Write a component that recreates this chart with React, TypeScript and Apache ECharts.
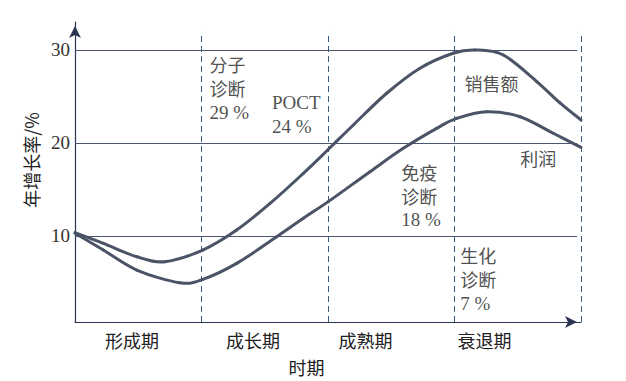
import { useEffect, useRef } from "react";
import * as echarts from "echarts";

const categories = ["形成期", "成长期", "成熟期", "衰退期"];
const categoryLabelAt = [0.451, 1.407, 2.296, 3.237];
const yTicks = [10, 20, 30];
const stageBounds = [1, 2, 3, 4];
const yMin = 0.753;
const yMax = 33.0;

const salesName = "销售额";
const salesData: [number, number][] = [
  [0, 10.36], [0.224, 9.21], [0.488, 7.77], [0.711, 7.24], [1.01, 8.49], [1.278, 10.64],
  [1.542, 13.5], [1.805, 16.73], [2.002, 19.3], [2.2, 21.93], [2.464, 25.34], [2.727, 28.03],
  [2.99, 29.64], [3.162, 29.99], [3.386, 29.45], [3.65, 26.6], [3.834, 24.3], [4, 22.47],
];
const profitName = "利润";
const profitData: [number, number][] = [
  [0, 10.3], [0.224, 8.49], [0.488, 6.34], [0.83, 4.97], [1.01, 5.33], [1.278, 7.05],
  [1.594, 9.92], [1.805, 11.9], [2.002, 13.69], [2.332, 16.91], [2.595, 19.42], [2.859, 21.57],
  [3.017, 22.64], [3.255, 23.36], [3.518, 22.82], [3.781, 21.04], [4, 19.53],
];

const annotations = [
  { lines: ["分子", "诊断", "29 %"], at: [1.067, 29.67] },
  { lines: ["POCT", "24 %"], at: [1.561, 25.58] },
  { lines: [salesName], at: [3.083, 27.73] },
  { lines: [profitName], at: [3.523, 19.67] },
  { lines: ["免疫", "诊断", "18 %"], at: [2.583, 18.15] },
  { lines: ["生化", "诊断", "7 %"], at: [3.049, 9.14] },
];

const CJK = '"Noto Sans CJK SC", "Noto Sans", sans-serif';
const SERIF = '"Liberation Serif", "DejaVu Serif", serif';
const TEXT = "#222";
const AXIS = "#2b3553";
const CURVE = "#4a5466";

function curveSeries(name: string, data: [number, number][]) {
  return {
    type: "custom",
    name,
    data,
    encode: { x: 0, y: 1 },
    clip: false,
    silent: true,
    z: 5,
    renderItem: (params: any, api: any) => {
      if (params.dataIndex !== 0) return { type: "group", children: [] };
      const p = data.map((d) => api.coord(d));
      const n = p.length;
      const children: any[] = [];
      for (let i = 0; i < n - 1; i++) {
        const p0 = p[Math.max(0, i - 1)];
        const p1 = p[i];
        const p2 = p[i + 1];
        const p3 = p[Math.min(n - 1, i + 2)];
        children.push({
          type: "bezierCurve",
          shape: {
            x1: p1[0], y1: p1[1], x2: p2[0], y2: p2[1],
            cpx1: p1[0] + (p2[0] - p0[0]) / 6, cpy1: p1[1] + (p2[1] - p0[1]) / 6,
            cpx2: p2[0] - (p3[0] - p1[0]) / 6, cpy2: p2[1] - (p3[1] - p1[1]) / 6,
          },
          style: { stroke: CURVE, lineWidth: 3, fill: null, lineCap: "round" },
          silent: true,
        });
      }
      return { type: "group", children };
    },
  };
}

export default function App() {
  const ref = useRef<HTMLDivElement>(null);
  useEffect(() => {
    if (!ref.current) return;
    const chart = echarts.init(ref.current, undefined, { renderer: "svg" });
    const rich: any = {
      c: { fontFamily: CJK, fontSize: 18, lineHeight: 24, color: TEXT },
      n: { fontFamily: SERIF, fontSize: 19, lineHeight: 24, color: TEXT },
    };
    chart.setOption({
      animation: false,
      grid: { left: 75, right: 45, top: 22, bottom: 59 },
      xAxis: {
        type: "value",
        min: 0,
        max: 4,
        name: "时期",
        nameLocation: "middle",
        nameGap: 36,
        nameTextStyle: { fontFamily: CJK, fontSize: 18, color: TEXT, padding: [0, 43, 0, 0] },
        axisLine: {
          show: true,
          lineStyle: { color: AXIS, width: 1.2 },
          symbol: ["none", "arrow"],
          symbolSize: [9, 12],
          symbolOffset: [0, -4],
        },
        axisTick: { show: false },
        splitLine: { show: false },
        axisLabel: {
          customValues: categoryLabelAt,
          formatter: (v: number) => {
            const i = categoryLabelAt.findIndex((q) => Math.abs(q - v) < 1e-6);
            return i >= 0 ? categories[i] : "";
          },
          fontFamily: CJK,
          fontSize: 18,
          color: TEXT,
          margin: 9,
        },
      },
      yAxis: {
        type: "value",
        min: yMin,
        max: yMax,
        name: "年增长率/%",
        nameLocation: "middle",
        nameRotate: 90,
        nameGap: 35,
        nameTextStyle: { fontFamily: CJK, fontSize: 18, color: TEXT, padding: [0, 0, 0, 24] },
        axisLine: {
          show: true,
          lineStyle: { color: AXIS, width: 1.2 },
          symbol: ["none", "arrow"],
          symbolSize: [9, 12],
          symbolOffset: [0, -4],
        },
        axisTick: { show: false, customValues: yTicks },
        splitLine: { show: false },
        axisLabel: {
          customValues: yTicks,
          fontFamily: SERIF,
          fontSize: 19,
          color: "#333",
          margin: 5,
        },
      },
      series: [
        {
          type: "line",
          name: "grid",
          data: [],
          markLine: {
            silent: true,
            symbol: ["none", "none"],
            label: { show: false },
            lineStyle: { color: "#4a5670", width: 1, type: "solid" },
            data: yTicks.map((v) => [{ coord: [0, v] }, { coord: [3.97, v] }]),
          },
        },
        {
          type: "line",
          name: "bounds",
          data: [],
          markLine: {
            silent: true,
            symbol: ["none", "none"],
            label: { show: false },
            lineStyle: { color: "#3b5b7c", width: 1, type: [6, 4] },
            data: stageBounds.map((k) => [{ coord: [k, yMin] }, { coord: [k, 31.93] }]),
          },
        },
        curveSeries(salesName, salesData),
        curveSeries(profitName, profitData),
        {
          type: "scatter",
          name: "notes",
          symbolSize: 1,
          itemStyle: { color: "rgba(0,0,0,0)" },
          silent: true,
          z: 6,
          data: annotations.map((a) => ({
            value: a.at,
            label: {
              show: true,
              position: [0, 0],
              align: "left",
              verticalAlign: "top",
              formatter: a.lines
                .map((l) => (/[0-9A-Za-z%]/.test(l) ? `{n|${l}}` : `{c|${l}}`))
                .join("\n"),
              rich,
            },
          })),
        },
      ],
    });
    return () => chart.dispose();
  }, []);
  return <div ref={ref} style={{ width: 626, height: 381, position: "absolute", left: 0, top: 0 }} />;
}
